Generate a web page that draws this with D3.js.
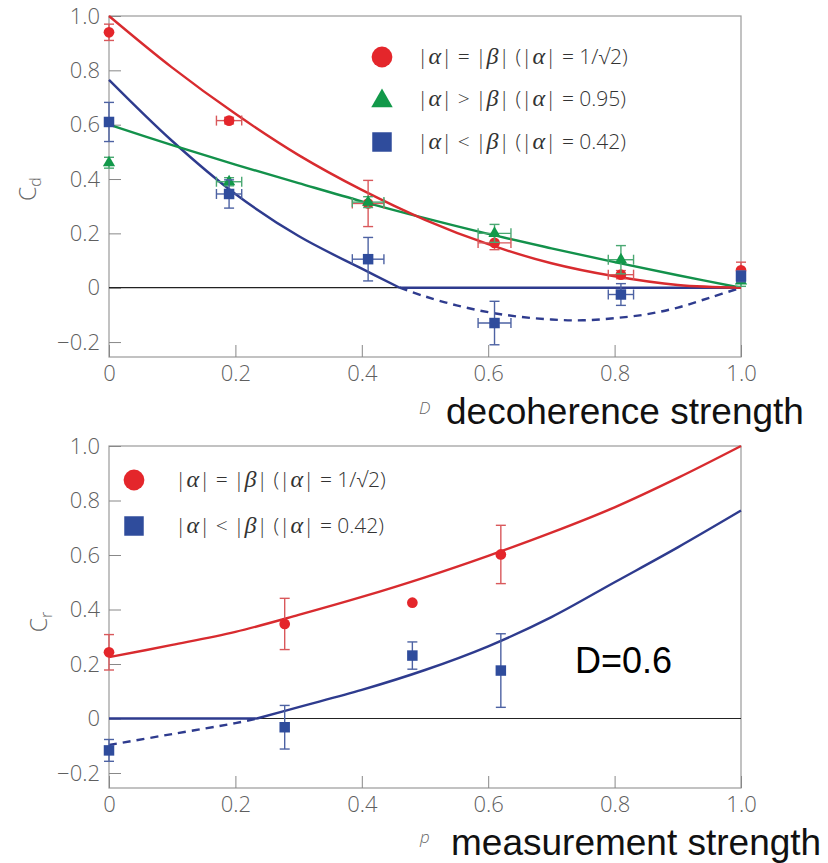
<!DOCTYPE html>
<html>
<head>
<meta charset="utf-8">
<script src="https://cdn.jsdelivr.net/npm/d3@7"></script>
<style>
  body { margin: 0; background: #fff; }
  svg { display: block; }
</style>
</head>
<body>
<svg id="chart" width="828" height="863"></svg>
<script>
// ---- top panel: C_d vs decoherence strength D ----
const topD      = [0, 0.19, 0.41, 0.61, 0.81, 1.0];
const topDErr   = [0, 0.02, 0.025, 0.026, 0.02, 0];
const topEqual     = [0.94, 0.615, 0.31, 0.165, 0.048, 0.064];
const topEqualErr  = [0.03, 0.012, 0.085, 0.025, 0.015, 0.03];
const topGreater    = [0.46, 0.39, 0.315, 0.2, 0.103, 0.025];
const topGreaterErr = [0.02, 0.015, 0.02, 0.033, 0.052, 0.02];
const topLess    = [0.61, 0.345, 0.105, -0.13, -0.025, 0.042];
const topLessErr = [0.072, 0.052, 0.08, 0.08, 0.04, 0.02];

// theory curves
const curveD        = [0, 0.1, 0.2, 0.3, 0.4, 0.5, 0.6, 0.7, 0.8, 0.9, 1.0];
const equalCurveD   = [1.0, 0.81, 0.64, 0.488, 0.36, 0.25, 0.16, 0.09, 0.042, 0.01, 0];
const greaterCurveD = [0.6, 0.525, 0.453, 0.385, 0.318, 0.256, 0.198, 0.145, 0.094, 0.046, 0];
const lessSolidD    = [0, 0.1, 0.2, 0.3, 0.4, 0.46];
const lessSolidVal  = [0.765, 0.54, 0.345, 0.19, 0.07, 0];
const lessDashD     = [0.46, 0.5, 0.55, 0.6, 0.65, 0.7, 0.75, 0.8, 0.85, 0.9, 0.95, 1.0];
const lessDashVal   = [0, -0.032, -0.065, -0.09, -0.107, -0.117, -0.12, -0.112, -0.098, -0.073, -0.037, 0];

// ---- bottom panel: C_r vs measurement strength p ----
const botP         = [0, 0.278, 0.48, 0.62];
const botEqual     = [0.243, 0.347, 0.425, 0.602];
const botEqualErr  = [0.065, 0.094, 0, 0.107];
const botLess      = [-0.117, -0.032, 0.231, 0.176];
const botLessErr   = [0.04, 0.08, 0.05, 0.135];

const curveP        = [0, 0.1, 0.2, 0.3, 0.4, 0.5, 0.6, 0.7, 0.8, 0.9, 1.0];
const equalCurveP   = [0.225, 0.27, 0.318, 0.38, 0.446, 0.518, 0.597, 0.682, 0.775, 0.883, 1.0];
const lessSolidP    = [0.234, 0.3, 0.4, 0.5, 0.6, 0.7, 0.8, 0.9, 1.0];
const lessSolidPVal = [0, 0.042, 0.105, 0.178, 0.265, 0.372, 0.5, 0.628, 0.763];
const lessDashP     = [0, 0.1, 0.2, 0.234];
const lessDashPVal  = [-0.097, -0.057, -0.017, 0];

const xTicks = [0, 0.2, 0.4, 0.6, 0.8, 1.0];
const yTicks = [-0.2, 0, 0.2, 0.4, 0.6, 0.8, 1.0];
const legendTop = ["|α| = |β| (|α| = 1/√2)", "|α| > |β| (|α| = 0.95)", "|α| < |β| (|α| = 0.42)"];
const legendBot = ["|α| = |β| (|α| = 1/√2)", "|α| < |β| (|α| = 0.42)"];

const col = {
  red: "#e4262b", redLine: "#d82b2f", redErr: "#d9585b",
  green: "#12994a", greenLine: "#13914b", greenErr: "#4aa872",
  blue: "#2f4c9c", blueLine: "#2e3b8e", blueErr: "#4d62a3"
};

const svg = d3.select("#chart");
const x = d3.scaleLinear().domain([0, 1]).range([109, 741]);

function styleAxis(a) {
  a.select(".domain").remove();
  a.selectAll(".tick line").attr("stroke", "#888");
  a.selectAll(".tick text").attr("font-family", "Open Sans, sans-serif").attr("font-weight", 300)
    .attr("font-size", 22).attr("fill", "#5f5f5f");
}

function panel(top, bottom) {
  const y = d3.scaleLinear().domain([-0.255, 1]).range([bottom, top]);
  const g = svg.append("g");
  g.append("rect").attr("x", 109).attr("y", top).attr("width", 632).attr("height", bottom - top)
    .attr("fill", "none").attr("stroke", "#9a9a9a").attr("stroke-width", 1.2);
  const fmt = d => d === 0 ? "0" : d3.format(".1f")(d);
  g.append("g").attr("transform", `translate(109,0)`)
    .call(d3.axisLeft(y).tickValues(yTicks).tickSize(-12).tickPadding(9).tickFormat(fmt))
    .call(styleAxis);
  g.append("g").attr("transform", `translate(0,${bottom})`)
    .call(d3.axisBottom(x).tickValues(xTicks).tickSize(-12).tickPadding(8).tickFormat(fmt))
    .call(styleAxis);
  g.append("line").attr("x1", 109).attr("x2", 741).attr("y1", y(0)).attr("y2", y(0))
    .attr("stroke", "#222").attr("stroke-width", 1.2);
  return { g, y };
}

function curve(p, xs, ys, color, dashed) {
  const line = d3.line().x(d => x(d[0])).y(d => p.y(d[1])).curve(d3.curveCatmullRom.alpha(0.5));
  p.g.append("path").attr("d", line(d3.zip(xs, ys)))
    .attr("fill", "none").attr("stroke", color).attr("stroke-width", 2.4)
    .attr("stroke-dasharray", dashed ? "8,6" : null);
}

function errorBars(p, xs, ys, yerr, xerr, color) {
  const cap = 5;
  xs.forEach((xv, i) => {
    const e = p.g.append("g").attr("stroke", color).attr("stroke-width", 1.4);
    if (yerr[i] > 0) {
      const y1 = p.y(ys[i] - yerr[i]), y2 = p.y(ys[i] + yerr[i]), cx = x(xv);
      e.append("line").attr("x1", cx).attr("x2", cx).attr("y1", y1).attr("y2", y2);
      e.append("line").attr("x1", cx - cap).attr("x2", cx + cap).attr("y1", y1).attr("y2", y1);
      e.append("line").attr("x1", cx - cap).attr("x2", cx + cap).attr("y1", y2).attr("y2", y2);
    }
    if (xerr && xerr[i] > 0) {
      const x1 = x(xv - xerr[i]), x2 = x(xv + xerr[i]), cy = p.y(ys[i]);
      e.append("line").attr("x1", x1).attr("x2", x2).attr("y1", cy).attr("y2", cy);
      e.append("line").attr("x1", x1).attr("x2", x1).attr("y1", cy - cap).attr("y2", cy + cap);
      e.append("line").attr("x1", x2).attr("x2", x2).attr("y1", cy - cap).attr("y2", cy + cap);
    }
  });
}

const sym = {
  circle: d3.symbol(d3.symbolCircle, 90),
  triangle: d3.symbol(d3.symbolTriangle, 65),
  square: d3.symbol(d3.symbolSquare, 110)
};

function markers(p, xs, ys, shape, color) {
  p.g.selectAll(null).data(d3.zip(xs, ys)).enter().append("path")
    .attr("d", sym[shape]())
    .attr("transform", d => `translate(${x(d[0])},${p.y(d[1])})`)
    .attr("fill", color);
}

function legendText(g, tx, ty, label) {
  const t = g.append("text").attr("x", tx).attr("y", ty)
    .attr("font-family", "Open Sans, sans-serif").attr("font-weight", 300)
    .attr("font-size", 21).attr("fill", "#333");
  label.split(/([αβ])/).filter(s => s.length).forEach(s => {
    const ts = t.append("tspan").text(s);
    if (s === "α" || s === "β") ts.attr("font-family", "Liberation Serif, serif").attr("font-style", "italic").attr("font-size", 24);
  });
}

function legend(g, lx, tx, ys, labels, shapes, colors) {
  const big = {
    circle: d3.symbol(d3.symbolCircle, 340),
    triangle: d3.symbol(d3.symbolTriangle, 200),
    square: d3.symbol(d3.symbolSquare, 380)
  };
  labels.forEach((lab, i) => {
    g.append("path").attr("d", big[shapes[i]]()).attr("fill", colors[i])
      .attr("transform", `translate(${lx},${ys[i] + (shapes[i] === "triangle" ? 2 : 0)})`);
    legendText(g, tx, ys[i] + 7, lab);
  });
}

function axisTitle(g, tx, ty, sub) {
  const t = g.append("text").attr("transform", `translate(${tx},${ty}) rotate(-90)`)
    .attr("text-anchor", "middle").attr("font-family", "Open Sans, sans-serif").attr("font-weight", 300)
    .attr("fill", "#666").attr("font-size", 23);
  t.append("tspan").text("C");
  t.append("tspan").text(sub).attr("font-size", 16).attr("dy", 5);
}

// ---- top panel ----
const pTop = panel(16, 357);
curve(pTop, lessDashD, lessDashVal, col.blueLine, true);
curve(pTop, [0.46, 1.0], [0, 0], col.blueLine, false);
curve(pTop, lessSolidD, lessSolidVal, col.blueLine, false);
curve(pTop, curveD, greaterCurveD, col.greenLine, false);
curve(pTop, curveD, equalCurveD, col.redLine, false);
errorBars(pTop, topD, topEqual, topEqualErr, topDErr, col.redErr);
markers(pTop, topD, topEqual, "circle", col.red);
errorBars(pTop, topD, topGreater, topGreaterErr, topDErr, col.greenErr);
markers(pTop, topD, topGreater, "triangle", col.green);
errorBars(pTop, topD, topLess, topLessErr, topDErr, col.blueErr);
markers(pTop, topD, topLess, "square", col.blue);
legend(pTop.g, 382, 417, [57, 99, 142], legendTop, ["circle", "triangle", "square"], [col.red, col.green, col.blue]);
axisTitle(pTop.g, 36, 189, "d");

// ---- bottom panel ----
const pBot = panel(446, 788);
curve(pBot, lessDashP, lessDashPVal, col.blueLine, true);
curve(pBot, [0, 0.234], [0, 0], col.blueLine, false);
curve(pBot, lessSolidP, lessSolidPVal, col.blueLine, false);
curve(pBot, curveP, equalCurveP, col.redLine, false);
errorBars(pBot, botP, botEqual, botEqualErr, null, col.redErr);
markers(pBot, botP, botEqual, "circle", col.red);
errorBars(pBot, botP, botLess, botLessErr, null, col.blueErr);
markers(pBot, botP, botLess, "square", col.blue);
legend(pBot.g, 134, 175, [480, 526], legendBot, ["circle", "square"], [col.red, col.blue]);
axisTitle(pBot.g, 47, 622, "r");

pBot.g.append("text").attr("x", 575).attr("y", 673).attr("font-family", "Liberation Sans, Arial, sans-serif")
  .attr("font-size", 36).attr("fill", "#000").text("D=0.6");

// ---- axis names ----
const names = [
  { sym: "D", x: 419, y: 414, text: "decoherence strength", tx: 446, ty: 424 },
  { sym: "p", x: 420, y: 843, text: "measurement strength", tx: 451, ty: 855 }
];
names.forEach(n => {
  svg.append("text").attr("x", n.x).attr("y", n.y).attr("font-family", "Open Sans, sans-serif")
    .attr("font-style", "italic").attr("font-weight", 300).attr("font-size", 17).attr("fill", "#666").text(n.sym);
  svg.append("text").attr("x", n.tx).attr("y", n.ty).attr("font-family", "Liberation Sans, Arial, sans-serif")
    .attr("font-size", 37).attr("fill", "#111").text(n.text);
});
</script>
</body>
</html>
